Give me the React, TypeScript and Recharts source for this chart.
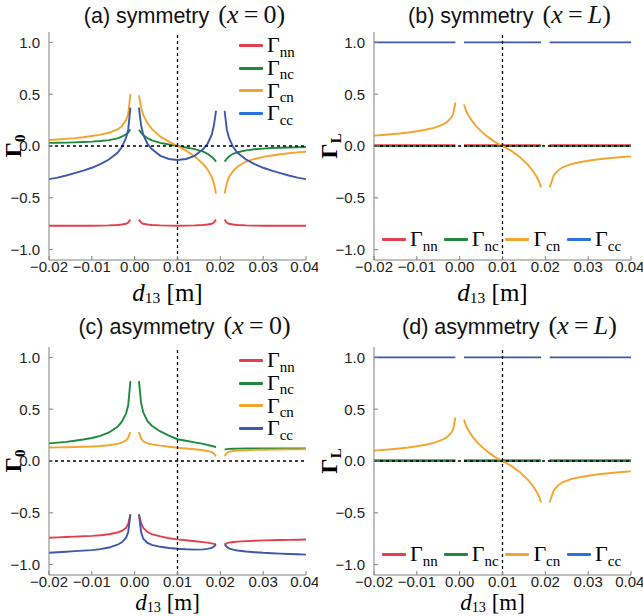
import React from 'react';
import { LineChart, Line, XAxis, YAxis, ReferenceLine } from 'recharts';

// d13 sample positions [m]; null rows at 0 and 0.02 break the curves
const X = [
  -0.02, -0.018, -0.016, -0.014, -0.012, -0.01, -0.008, -0.006, -0.004, -0.003, -0.002, -0.0015, -0.001,
  0,
  0.001, 0.0015, 0.002, 0.003, 0.004, 0.006, 0.008, 0.01, 0.012, 0.014, 0.016, 0.017, 0.018, 0.0185, 0.019,
  0.02,
  0.021, 0.0215, 0.022, 0.023, 0.024, 0.026, 0.028, 0.03, 0.032, 0.034, 0.036, 0.038, 0.04,
];

// (a) symmetry, x = 0
const nnSym0 = [
  -0.77, -0.77, -0.77, -0.77, -0.77, -0.77, -0.768, -0.766, -0.762, -0.757, -0.75, -0.738, -0.71, null,
  -0.71, -0.738, -0.75, -0.757, -0.762, -0.766, -0.768, -0.77, -0.768, -0.766, -0.762, -0.757, -0.75, -0.738, -0.71, null,
  -0.71, -0.738, -0.75, -0.757, -0.762, -0.766, -0.768, -0.77, -0.77, -0.77, -0.77, -0.77, -0.77,
];
const ncSym0 = [
  0.03, 0.031, 0.033, 0.035, 0.038, 0.042, 0.048, 0.057, 0.074, 0.09, 0.112, 0.13, 0.16, null,
  0.155, 0.13, 0.105, 0.075, 0.055, 0.03, 0.014, 0, -0.014, -0.03, -0.055, -0.075, -0.105, -0.125, -0.15, null,
  -0.15, -0.125, -0.1, -0.075, -0.06, -0.042, -0.032, -0.025, -0.02, -0.017, -0.014, -0.012, -0.01,
];
const cnSym0 = [
  0.058, 0.063, 0.069, 0.076, 0.085, 0.097, 0.11, 0.128, 0.16, 0.19, 0.25, 0.31, 0.5, null,
  0.49, 0.37, 0.3, 0.22, 0.165, 0.09, 0.042, 0, -0.045, -0.1, -0.175, -0.225, -0.3, -0.36, -0.46, null,
  -0.46, -0.36, -0.3, -0.24, -0.2, -0.15, -0.125, -0.105, -0.092, -0.08, -0.07, -0.062, -0.055,
];
const ccSym0 = [
  -0.32, -0.305, -0.285, -0.262, -0.238, -0.21, -0.175, -0.13, -0.065, -0.01, 0.08, 0.16, 0.37, null,
  0.37, 0.2, 0.11, 0.02, -0.03, -0.095, -0.125, -0.135, -0.125, -0.095, -0.03, 0.02, 0.11, 0.2, 0.34, null,
  0.34, 0.16, 0.08, -0.01, -0.065, -0.13, -0.175, -0.21, -0.238, -0.262, -0.285, -0.305, -0.32,
];

// (c) asymmetry, x = 0
const nnAsym0 = [
  -0.74, -0.737, -0.734, -0.73, -0.726, -0.722, -0.716, -0.707, -0.69, -0.675, -0.645, -0.605, -0.515, null,
  -0.515, -0.6, -0.645, -0.685, -0.705, -0.728, -0.745, -0.756, -0.765, -0.774, -0.783, -0.788, -0.795, -0.8, -0.805, null,
  -0.805, -0.795, -0.788, -0.782, -0.778, -0.773, -0.769, -0.766, -0.764, -0.762, -0.761, -0.76, -0.758,
];
const ncAsym0 = [
  0.17, 0.177, 0.185, 0.195, 0.207, 0.222, 0.243, 0.275, 0.33, 0.38, 0.46, 0.54, 0.77, null,
  0.77, 0.56, 0.47, 0.385, 0.34, 0.285, 0.245, 0.21, 0.195, 0.18, 0.165, 0.155, 0.145, 0.14, 0.135, null,
  0.11, 0.115, 0.117, 0.118, 0.119, 0.12, 0.12, 0.12, 0.12, 0.12, 0.12, 0.12, 0.12,
];
const cnAsym0 = [
  0.13, 0.131, 0.133, 0.135, 0.137, 0.14, 0.145, 0.152, 0.165, 0.178, 0.2, 0.225, 0.28, null,
  0.28, 0.22, 0.19, 0.17, 0.16, 0.148, 0.138, 0.128, 0.12, 0.113, 0.104, 0.097, 0.085, 0.072, 0.045, null,
  0.045, 0.075, 0.088, 0.096, 0.1, 0.104, 0.107, 0.109, 0.11, 0.111, 0.112, 0.112, 0.113,
];
const ccAsym0 = [
  -0.885, -0.88, -0.875, -0.87, -0.865, -0.86, -0.85, -0.835, -0.808, -0.785, -0.74, -0.685, -0.515, null,
  -0.515, -0.685, -0.75, -0.79, -0.81, -0.828, -0.84, -0.847, -0.852, -0.855, -0.853, -0.848, -0.838, -0.825, -0.805, null,
  -0.805, -0.828, -0.843, -0.855, -0.863, -0.873, -0.88, -0.886, -0.89, -0.894, -0.897, -0.9, -0.903,
];

// (b), (d) x = L  (both panels read the same)
const cnL = [
  0.1, 0.106, 0.113, 0.121, 0.13, 0.142, 0.157, 0.175, 0.205, 0.23, 0.27, 0.31, 0.42, null,
  0.4, 0.34, 0.3, 0.235, 0.185, 0.105, 0.045, 0, -0.045, -0.105, -0.185, -0.235, -0.3, -0.34, -0.4, null,
  -0.4, -0.34, -0.28, -0.235, -0.205, -0.175, -0.157, -0.142, -0.13, -0.121, -0.113, -0.106, -0.1,
];
// flat series at x = L only need the ends of each segment
const XF = [-0.02, -0.001, 0, 0.001, 0.019, 0.02, 0.021, 0.04];
const nnL = [0.008, 0.008, null, 0.008, 0.008, null, 0.008, 0.008];
const ncL = [0, 0, null, 0, 0, null, 0, 0];
const ccL = [1, 1, null, 1, 1, null, 1, 1];

const X_TICKS = [-0.02, -0.01, 0, 0.01, 0.02, 0.03, 0.04];
const Y_TICKS = [-1, -0.5, 0, 0.5, 1];
const SUBS = ['nn', 'nc', 'cn', 'cc'];

const COLORS = ['#e2404a', '#1f8a3e', '#f3a530', '#3d59a8'];
const BRIGHT_BLUE = '#2c72dc';

const SANS = '"Liberation Sans", Arial, sans-serif';
const SERIF = '"Liberation Serif", "Times New Roman", serif';

const CHART_W = 318;
const CHART_H = 300;
const PLOT_L = 49;
const PLOT_T = 32;
const PLOT_R = 306;
const PLOT_B = 260;

const pts = (xs: number[], ys: (number | null)[]) => xs.map((x, i) => ({ x, y: ys[i] }));
const fmt = (digits: number) => (v: number) => (v < 0 ? '\u2212' : '') + Math.abs(v).toFixed(digits);

interface PanelProps {
  left: number;
  top: number;
  letter: string;
  kind: string;
  pos: string;
  series: { x: number; y: number | null }[][];
  legend: 'vertical' | 'horizontal';
  legendColors: string[];
  titleTop: number;
  labelTop: number;
  labelSize: number;
}

const Gamma = ({ sub, size = 22 }: { sub: string; size?: number }) => (
  <span style={{ fontFamily: SERIF, fontSize: size, whiteSpace: 'nowrap', lineHeight: 1 }}>
    Γ<sub style={{ fontSize: size * 0.68, verticalAlign: 'baseline', position: 'relative', top: size * 0.2 }}>{sub}</sub>
  </span>
);

const LegendItem = ({ color, sub }: { color: string; sub: string }) => (
  <div style={{ display: 'flex', alignItems: 'center', height: 22.7 }}>
    <div style={{ width: 24, height: 3, background: color, marginRight: 4, borderRadius: 1 }} />
    <Gamma sub={sub} />
  </div>
);

const Panel: React.FC<PanelProps> = ({
  left, top, letter, kind, pos, series, legend, legendColors, titleTop, labelTop, labelSize,
}) => {
  const cx = (PLOT_L + PLOT_R) / 2;
  return (
    <div style={{ position: 'absolute', left, top, width: CHART_W, height: CHART_H + 10 }}>
      <div
        style={{
          position: 'absolute',
          left: cx - 150 + 7,
          width: 300,
          top: titleTop,
          textAlign: 'center',
          whiteSpace: 'nowrap',
          lineHeight: '28px',
          color: '#111',
        }}
      >
        <span style={{ fontFamily: SANS, fontSize: 21.5 }}>({letter}) {kind}</span>
        <span style={{ fontFamily: SERIF, fontSize: 26, marginLeft: 9 }}>
          (<i>x</i>&thinsp;=&thinsp;{pos === 'L' ? <i>L</i> : '0'})
        </span>
      </div>

      <LineChart width={CHART_W} height={CHART_H} margin={{ top: PLOT_T, right: CHART_W - PLOT_R, left: 0, bottom: 0 }}>
        <XAxis
          dataKey="x"
          type="number"
          domain={[-0.02, 0.04]}
          ticks={X_TICKS}
          tickFormatter={fmt(2)}
          allowDataOverflow
          height={CHART_H - PLOT_B}
          tickSize={-4}
          tickMargin={5}
          stroke="#808080"
          tick={{ fill: '#222', fontFamily: SANS, fontSize: 15 }}
        />
        <XAxis xAxisId="top" orientation="top" type="number" domain={[-0.02, 0.04]} height={0} tick={false} tickLine={false} stroke="#808080" />
        <YAxis
          type="number"
          domain={[-1.1, 1.1]}
          ticks={Y_TICKS}
          tickFormatter={fmt(1)}
          allowDataOverflow
          width={PLOT_L}
          tickSize={-4}
          tickMargin={13}
          stroke="#808080"
          tick={{ fill: '#222', fontFamily: SANS, fontSize: 15 }}
        />
        <YAxis yAxisId="right" orientation="right" type="number" domain={[-1.1, 1.1]} width={0} tick={false} tickLine={false} stroke="#808080" />
        {series.map((d, i) => (
          <Line
            key={SUBS[i]}
            data={d}
            dataKey="y"
            type="linear"
            stroke={COLORS[i]}
            strokeWidth={1.9}
            dot={false}
            activeDot={false}
            isAnimationActive={false}
          />
        ))}
        <ReferenceLine y={0} stroke="#000" strokeDasharray="3 3" strokeWidth={1.3} />
        <ReferenceLine x={0.01} stroke="#000" strokeDasharray="3 3" strokeWidth={1.3} />
      </LineChart>

      {legend === 'vertical' ? (
        <div style={{ position: 'absolute', left: 239, top: 34 }}>
          {SUBS.map((s, i) => (
            <LegendItem key={s} color={legendColors[i]} sub={s} />
          ))}
        </div>
      ) : (
        <div style={{ position: 'absolute', left: 57, top: 228, display: 'flex' }}>
          {SUBS.map((s, i) => (
            <div key={s} style={{ width: 61.7 }}>
              <LegendItem color={legendColors[i]} sub={s} />
            </div>
          ))}
        </div>
      )}

      <div
        style={{
          position: 'absolute',
          left: pos === 'L' ? 5 : 14,
          top: (PLOT_T + PLOT_B) / 2,
          transform: 'translate(-50%, -50%) rotate(-90deg)',
          fontFamily: SERIF,
          fontWeight: 'bold',
          fontSize: 24,
          lineHeight: '18px',
          whiteSpace: 'nowrap',
          color: '#000',
        }}
      >
        Γ<sub style={{ fontSize: 15, verticalAlign: 'baseline', position: 'relative', top: 4 }}>{pos === 'L' ? 'L' : '0'}</sub>
      </div>

      <div
        style={{
          position: 'absolute',
          left: cx - 100 - 10,
          width: 200,
          top: labelTop,
          textAlign: 'center',
          fontFamily: SERIF,
          fontSize: labelSize,
          lineHeight: '24px',
          whiteSpace: 'nowrap',
          color: '#000',
        }}
      >
        <i>d</i>
        <sub style={{ fontSize: labelSize * 0.62, verticalAlign: 'baseline', position: 'relative', top: 2 }}>13</sub> [m]
      </div>
    </div>
  );
};

const App: React.FC = () => {
  const sym0 = [nnSym0, ncSym0, cnSym0, ccSym0].map((ys) => pts(X, ys));
  const asym0 = [nnAsym0, ncAsym0, cnAsym0, ccAsym0].map((ys) => pts(X, ys));
  const atL = [pts(XF, nnL), pts(XF, ncL), pts(X, cnL), pts(XF, ccL)];
  const brightLegend = [COLORS[0], COLORS[1], COLORS[2], BRIGHT_BLUE];

  return (
    <div style={{ position: 'absolute', left: 0, top: 0, width: 643, height: 616, background: '#fff', overflow: 'hidden' }}>
      <Panel left={0} top={0} letter="a" kind="symmetry" pos="0" series={sym0} legend="vertical" legendColors={brightLegend} titleTop={1} labelTop={281} labelSize={25} />
      <Panel left={325} top={0} letter="b" kind="symmetry" pos="L" series={atL} legend="horizontal" legendColors={brightLegend} titleTop={1} labelTop={281} labelSize={25} />
      <Panel left={0} top={315} letter="c" kind="asymmetry" pos="0" series={asym0} legend="vertical" legendColors={COLORS} titleTop={-3} labelTop={276} labelSize={23} />
      <Panel left={325} top={315} letter="d" kind="asymmetry" pos="L" series={atL} legend="horizontal" legendColors={brightLegend} titleTop={-3} labelTop={276} labelSize={23} />
    </div>
  );
};

export default App;
